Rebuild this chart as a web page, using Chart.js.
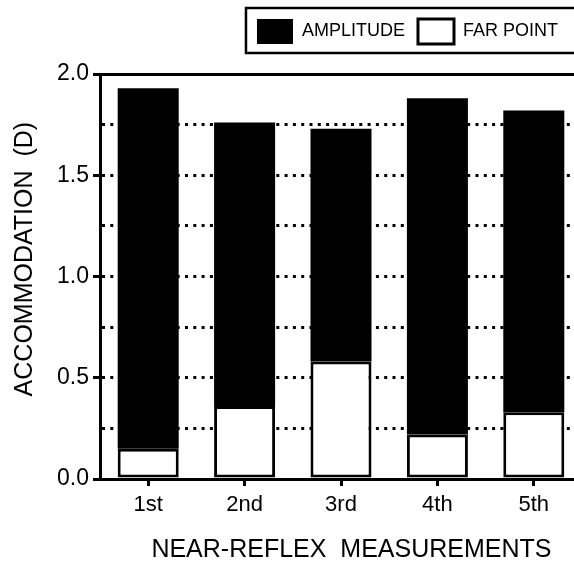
<!DOCTYPE html>
<html>
<head>
<meta charset="utf-8">
<script src="https://cdn.jsdelivr.net/npm/chart.js@4"></script>
<style>
  html, body { margin: 0; padding: 0; background: #fff; overflow: hidden; }
  #wrap { width: 574px; height: 565px; overflow: hidden; }
</style>
</head>
<body>
<div id="wrap"><canvas id="chart" width="600" height="565"></canvas></div>
<script>
const categories = ['1st', '2nd', '3rd', '4th', '5th'];
const farPoint = [0.15, 0.36, 0.58, 0.22, 0.33];
const amplitude = [1.78, 1.40, 1.15, 1.66, 1.49];
const yLabelValues = [0.0, 0.5, 1.0, 1.5, 2.0];

const FONT = '"Liberation Sans", Arial, Helvetica, sans-serif';
const legendShift = 11;

// legend box sits a bit left of the plot's right edge, with a frame round it
const legendFrame = {
    id: 'legendFrame',
    afterLayout(chart) {
        chart.legend.left -= legendShift;
        chart.legend.right -= legendShift;
    },
    afterDraw(chart) {
        const lg = chart.legend;
        const ctx = chart.ctx;
        const left = lg.right - lg.lineWidths[0] - legendShift;
        ctx.save();
        ctx.strokeStyle = '#000';
        ctx.lineWidth = 2.5;
        ctx.strokeRect(left, lg.top + 2, chart.width - left + 10, lg.height - 3);
        ctx.restore();
    }
};

new Chart(document.getElementById('chart'), {
    type: 'bar',
    data: {
        labels: categories,
        datasets: [
            {
                label: 'FAR POINT',
                data: farPoint,
                backgroundColor: '#fff',
                borderColor: '#000',
                borderWidth: 3,
                borderSkipped: false,
                barPercentage: 0.633,
                categoryPercentage: 1
            },
            {
                label: 'AMPLITUDE',
                data: amplitude,
                backgroundColor: '#000',
                borderColor: '#000',
                borderWidth: 0,
                barPercentage: 0.633,
                categoryPercentage: 1
            }
        ]
    },
    options: {
        responsive: false,
        animation: false,
        layout: { padding: { top: 6, right: 18, bottom: 0, left: 0 } },
        plugins: {
            tooltip: { enabled: false },
            legend: {
                position: 'top',
                align: 'end',
                reverse: true,
                labels: {
                    boxWidth: 36,
                    boxHeight: 25,
                    padding: 13,
                    color: '#000',
                    font: { family: FONT, size: 18 }
                }
            }
        },
        scales: {
            x: {
                stacked: true,
                border: { color: '#000', width: 3 },
                grid: {
                    offset: false,
                    drawOnChartArea: false,
                    tickLength: 7,
                    tickWidth: 3,
                    tickColor: '#000'
                },
                ticks: {
                    color: '#000',
                    padding: 6,
                    font: { family: FONT, size: 22 }
                },
                title: {
                    display: true,
                    text: '   NEAR-REFLEX  MEASUREMENTS',
                    color: '#000',
                    padding: 0,
                    font: { family: FONT, size: 25 }
                },
                afterFit: (scale) => { scale.height = 86; }
            },
            x2: {
                type: 'category',
                position: 'top',
                labels: categories,
                border: { color: '#000', width: 3 },
                grid: {
                    offset: false,
                    drawOnChartArea: false,
                    tickLength: 20,
                    tickColor: 'rgba(0,0,0,0)'
                },
                ticks: { display: false }
            },
            y: {
                stacked: true,
                min: 0,
                max: 2,
                border: { color: '#000', width: 3, dash: [3, 5.3] },
                grid: {
                    color: (ctx) => (ctx.tick && (ctx.tick.value === 0 || ctx.tick.value === 2)) ? 'rgba(0,0,0,0)' : '#000',
                    lineWidth: 3,
                    tickLength: 7,
                    tickWidth: 3,
                    tickBorderDash: [],
                    tickColor: (ctx) => (ctx.tick && yLabelValues.includes(ctx.tick.value)) ? '#000' : 'rgba(0,0,0,0)'
                },
                ticks: {
                    stepSize: 0.25,
                    autoSkip: false,
                    color: '#000',
                    padding: 4,
                    font: { family: FONT, size: 23 },
                    callback: (v) => yLabelValues.includes(v) ? v.toFixed(1) : ''
                },
                title: {
                    display: true,
                    text: '     ACCOMMODATION  (D)',
                    color: '#000',
                    padding: { top: 10, bottom: 0 },
                    font: { family: FONT, size: 25 }
                },
                afterFit: (scale) => { scale.width = 100; }
            }
        }
    },
    plugins: [legendFrame]
});
</script>
</body>
</html>
